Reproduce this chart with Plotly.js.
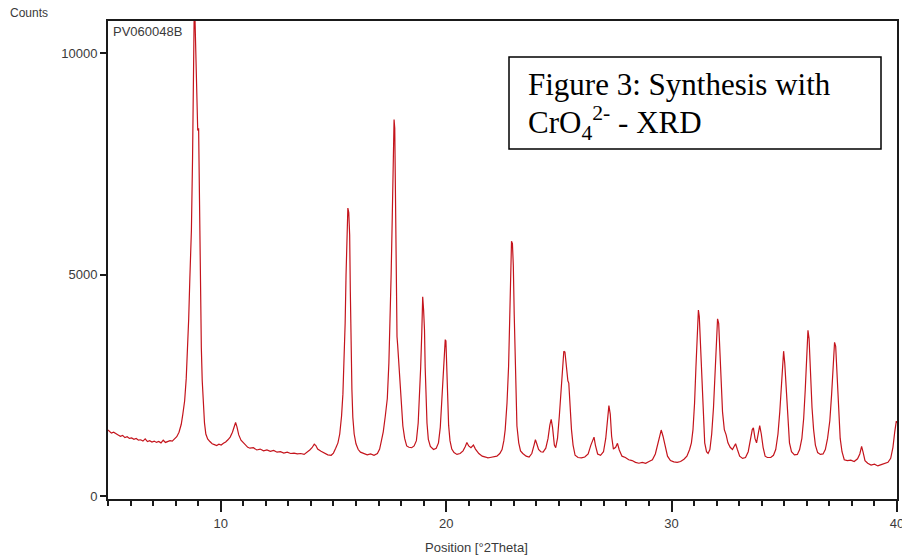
<!DOCTYPE html>
<html>
<head>
<meta charset="utf-8">
<script src="https://cdn.plot.ly/plotly-3.0.1.min.js"></script>
<style>
html,body{margin:0;padding:0;background:#fff;}
#chart{width:902px;height:557px;}
</style>
</head>
<body>
<div id="chart"></div>
<script>
// Diffraction pattern: position (°2Theta) and counts
const twoTheta = [
5.00,5.08,5.15,5.25,5.35,5.45,5.55,5.65,5.75,5.85,5.95,6.05,6.15,6.25,6.35,6.45,6.55,6.65,6.75,6.85,6.95,7.05,7.15,7.25,7.35,7.45,7.55,7.65,7.75,7.85,7.95,8.05,8.15,8.25,8.32,8.40,8.47,8.53,8.58,8.63,8.70,8.75,8.79,8.82,8.86,8.90,8.94,8.98,9.02,9.04,9.07,9.11,9.14,9.18,9.23,9.28,9.34,9.42,9.52,9.62,9.72,9.82,9.92,10.02,10.12,10.22,10.32,10.42,10.52,10.60,10.66,10.72,10.80,10.90,11.00,11.10,11.20,11.30,11.45,11.60,11.75,11.90,12.05,12.20,12.35,12.50,12.65,12.80,12.95,13.10,13.25,13.40,13.55,13.70,13.85,13.95,14.05,14.15,14.22,14.30,14.45,14.60,14.75,14.90,15.00,15.10,15.20,15.28,15.36,15.42,15.47,15.52,15.56,15.60,15.64,15.68,15.72,15.75,15.78,15.82,15.86,15.92,16.00,16.10,16.20,16.35,16.50,16.65,16.80,16.95,17.05,17.13,17.21,17.30,17.39,17.46,17.51,17.56,17.61,17.65,17.69,17.72,17.75,17.78,17.82,17.85,17.88,17.92,17.96,18.02,18.08,18.16,18.25,18.35,18.47,18.58,18.68,18.76,18.82,18.87,18.92,18.96,19.00,19.04,19.07,19.10,19.15,19.21,19.30,19.44,19.56,19.66,19.74,19.81,19.87,19.91,19.96,19.99,20.03,20.07,20.11,20.17,20.25,20.35,20.48,20.62,20.75,20.85,20.92,21.00,21.10,21.21,21.30,21.45,21.60,21.75,21.85,21.95,22.10,22.25,22.38,22.48,22.56,22.62,22.70,22.77,22.82,22.86,22.90,22.94,22.98,23.02,23.06,23.10,23.14,23.22,23.30,23.40,23.55,23.68,23.80,23.90,23.96,24.02,24.10,24.20,24.30,24.42,24.52,24.60,24.66,24.72,24.80,24.86,24.94,25.02,25.10,25.16,25.22,25.27,25.33,25.40,25.44,25.50,25.56,25.63,25.72,25.85,26.00,26.15,26.30,26.42,26.50,26.56,26.62,26.72,26.85,26.98,27.08,27.16,27.22,27.28,27.34,27.42,27.52,27.60,27.68,27.80,27.95,28.10,28.25,28.40,28.55,28.70,28.85,29.00,29.15,29.28,29.40,29.48,29.54,29.62,29.72,29.82,29.95,30.10,30.25,30.40,30.55,30.68,30.80,30.88,30.95,31.02,31.08,31.14,31.19,31.23,31.28,31.34,31.40,31.47,31.55,31.62,31.70,31.78,31.86,31.93,31.99,32.04,32.09,32.13,32.19,32.26,32.34,32.42,32.50,32.60,32.70,32.78,32.84,32.92,33.02,33.15,33.28,33.40,33.50,33.58,33.63,33.70,33.77,33.84,33.91,33.98,34.06,34.15,34.25,34.40,34.52,34.62,34.72,34.80,34.87,34.93,34.97,35.02,35.08,35.15,35.23,35.32,35.45,35.58,35.68,35.78,35.86,35.93,35.99,36.05,36.10,36.16,36.23,36.30,36.38,36.48,36.60,36.72,36.82,36.92,37.02,37.10,37.17,37.23,37.28,37.33,37.40,37.48,37.56,37.66,37.80,37.95,38.10,38.25,38.35,38.43,38.50,38.58,38.70,38.85,39.00,39.15,39.30,39.45,39.60,39.72,39.82,39.90,39.97,40.00
];
const counts = [
1490,1460,1420,1440,1400,1380,1350,1370,1320,1340,1300,1310,1280,1300,1260,1270,1240,1290,1230,1250,1220,1240,1210,1230,1200,1260,1210,1230,1250,1240,1290,1340,1440,1620,1850,2150,2650,3300,4000,4900,6000,7600,9500,10750,10750,9800,8900,8250,8300,7400,5800,4300,3350,2600,2050,1650,1400,1290,1230,1180,1160,1140,1170,1150,1190,1220,1270,1330,1440,1580,1660,1560,1380,1260,1200,1140,1100,1080,1090,1040,1060,1020,1040,1010,1030,990,1000,970,990,960,970,950,960,940,990,1040,1090,1170,1140,1060,1010,960,930,920,970,1080,1200,1400,1800,2300,2950,3900,5000,5800,6500,6400,5900,4600,3500,2400,1780,1400,1180,1050,990,960,930,950,920,960,1060,1250,1450,1800,2200,3000,3900,5000,6300,7600,8500,8300,6500,4500,3600,3400,3150,2800,2400,1950,1580,1300,1130,1100,1090,1130,1250,1650,2200,2900,3700,4500,4200,3750,2900,2200,1650,1280,1120,1050,1080,1200,1550,2180,2700,3100,3530,3500,2800,2150,1600,1250,1060,980,940,960,1020,1120,1210,1130,1090,1150,1060,960,900,880,860,870,880,900,960,1050,1250,1500,2100,2930,4000,4900,5750,5700,5200,4100,3000,2200,1580,1200,1020,960,900,880,960,1150,1270,1180,1050,1000,990,1080,1300,1600,1730,1550,1150,1090,1300,1800,2400,2900,3270,3250,2900,2600,2550,2000,1500,1150,920,870,860,880,950,1150,1270,1330,1150,950,920,1000,1300,1700,2040,1850,1350,1060,1100,1190,1040,900,870,820,800,760,740,760,740,780,820,950,1200,1400,1490,1350,1100,900,800,770,760,780,830,900,1050,1200,1500,2100,2900,3700,4200,4050,3400,2500,1700,1200,1000,960,1050,1400,2000,2800,3600,4000,3900,3500,2700,1900,1500,1380,1200,1100,1050,1120,1180,1050,900,850,870,1000,1250,1500,1540,1300,1200,1450,1590,1400,1100,900,870,870,920,1050,1400,1900,2600,3150,3270,3000,2400,1700,1200,1000,930,940,1050,1300,1750,2400,3100,3740,3550,2800,2000,1500,1150,980,940,950,1050,1300,1700,2300,2900,3470,3380,2800,2000,1300,1000,820,800,810,780,840,950,1120,980,800,740,700,720,680,710,740,760,850,1100,1450,1690,1650
];
const xTickVals = [10, 20, 30, 40];
const xTickText = ["10", "20", "30", "40"];
const yTickVals = [0, 5000, 10000];
const yTickText = ["0", "5000", "10000"];
const sampleName = "PV060048B";
const yLabel = "Counts";
const xLabel = "Position [°2Theta]";
const boxLine1 = "Figure 3: Synthesis with";
const boxLine2 = "CrO<sub>4</sub><sup>2-</sup> - XRD";

const L = 108, R = 897, T = 21, B = 499, W = 902, H = 557;
const px = v => (v - L) / (R - L);
const py = v => (B - v) / (B - T);

const labelFont = {family: "Liberation Sans Narrow, Liberation Sans, Arial, sans-serif", size: 13, color: "#3a3a3a"};

const trace = {
  x: twoTheta, y: counts, type: "scatter", mode: "lines",
  line: {color: "#c4141c", width: 1.2},
  hoverinfo: "x+y", showlegend: false
};

const layout = {
  width: W, height: H,
  margin: {l: L, r: W - R, t: T, b: H - B, pad: 0},
  paper_bgcolor: "#ffffff", plot_bgcolor: "#ffffff",
  showlegend: false,
  xaxis: {
    range: [5, 40], showgrid: false, zeroline: false,
    showline: true, linecolor: "#1a1a1a", linewidth: 2, mirror: true,
    ticks: "outside", ticklen: 11, tickwidth: 2, tickcolor: "#1a1a1a",
    tickmode: "array", tickvals: xTickVals, ticktext: xTickText,
    ticklabeloverflow: "allow",
    tickfont: labelFont,
    minor: {dtick: 1, tick0: 0, ticks: "outside", ticklen: 5, tickwidth: 2, tickcolor: "#1a1a1a", showgrid: false}
  },
  yaxis: {
    range: [-67, 10723], showgrid: false, zeroline: false,
    showline: true, linecolor: "#1a1a1a", linewidth: 2, mirror: true,
    ticks: "outside", ticklen: 6, tickwidth: 2, tickcolor: "#1a1a1a",
    tickmode: "array", tickvals: yTickVals, ticktext: yTickText,
    tickfont: labelFont
  },
  shapes: [
    {type: "rect", xref: "paper", yref: "paper",
     x0: px(509), x1: px(881), y0: py(149), y1: py(57),
     line: {color: "#000000", width: 1.5}, fillcolor: "#ffffff", layer: "above"}
  ],
  annotations: [
    {text: yLabel, xref: "paper", yref: "paper", x: px(8), y: py(13),
     xanchor: "left", yanchor: "middle", showarrow: false, font: {family: labelFont.family, size: 12, color: "#3a3a3a"}},
    {text: sampleName, xref: "paper", yref: "paper", x: px(111), y: py(31),
     xanchor: "left", yanchor: "middle", showarrow: false, font: {family: labelFont.family, size: 13, color: "#3a3a3a"}},
    {text: xLabel, xref: "paper", yref: "paper", x: px(476), y: py(547),
     xanchor: "center", yanchor: "middle", showarrow: false, font: {family: labelFont.family, size: 13, color: "#3a3a3a"}},
    {text: boxLine1, xref: "paper", yref: "paper", x: px(526), y: py(84),
     xanchor: "left", yanchor: "middle", showarrow: false,
     font: {family: "Liberation Serif, Times New Roman, serif", size: 31, color: "#000000"}},
    {text: boxLine2, xref: "paper", yref: "paper", x: px(526), y: py(123),
     xanchor: "left", yanchor: "middle", showarrow: false,
     font: {family: "Liberation Serif, Times New Roman, serif", size: 31, color: "#000000"}}
  ]
};

Plotly.newPlot("chart", [trace], layout, {staticPlot: true, displayModeBar: false});
</script>
</body>
</html>
